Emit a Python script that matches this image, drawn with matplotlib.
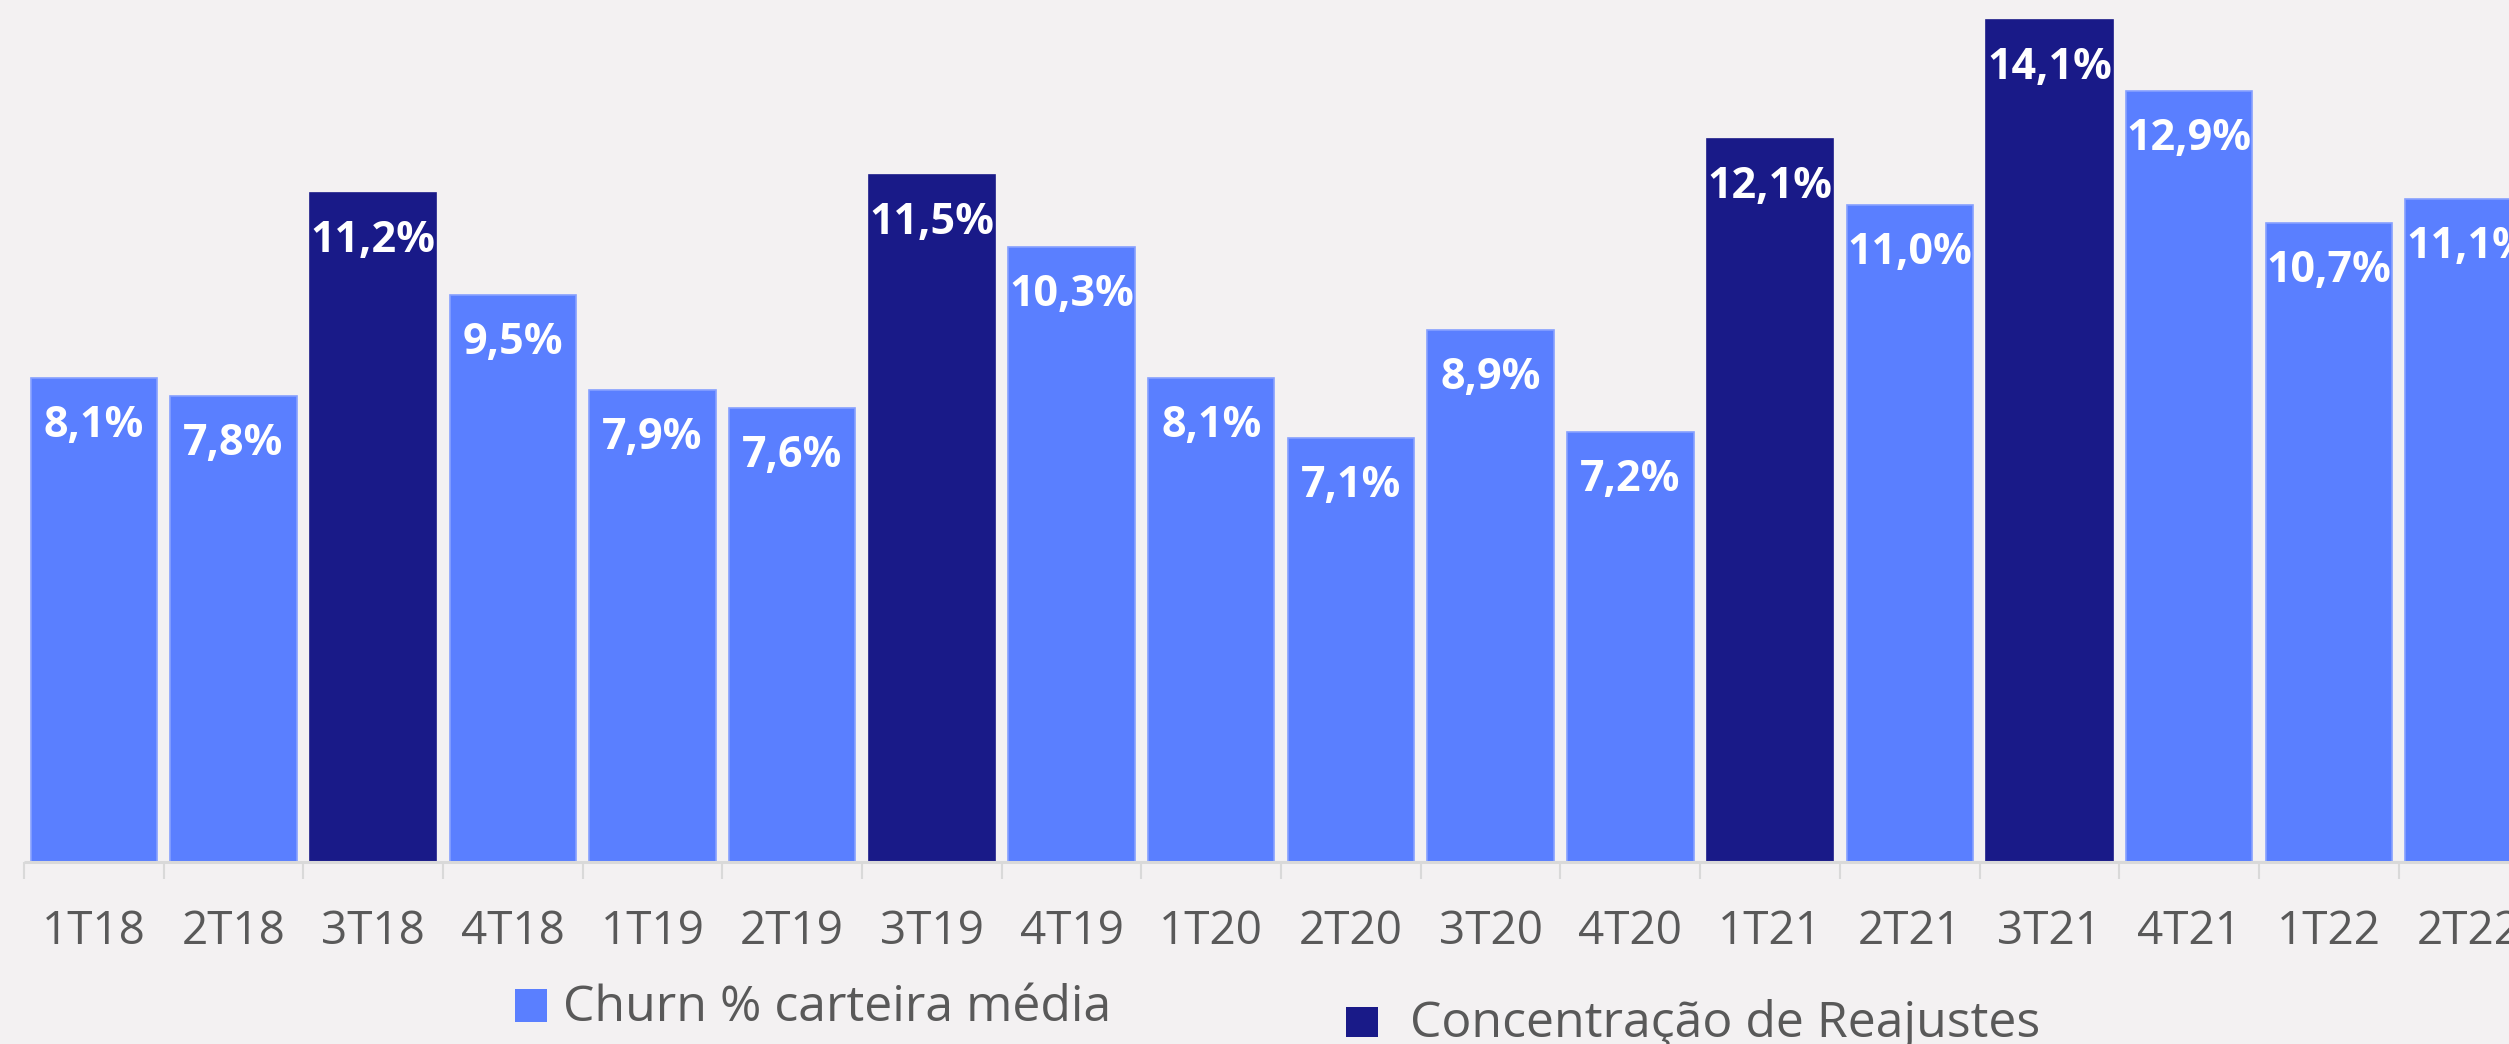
import numpy as np
import matplotlib
matplotlib.use("Agg")
import matplotlib.pyplot as plt
from matplotlib.patches import Rectangle

# Quarterly churn (% of average portfolio)
quarters = ["1T18", "2T18", "3T18", "4T18", "1T19", "2T19", "3T19", "4T19", "1T20",
            "2T20", "3T20", "4T20", "1T21", "2T21", "3T21", "4T21", "1T22", "2T22"]
churn = [8.1, 7.8, 11.2, 9.5, 7.9, 7.6, 11.5, 10.3, 8.1,
         7.1, 8.9, 7.2, 12.1, 11.0, 14.1, 12.9, 10.7, 11.1]
# Quarters with concentration of price readjustments
readjust = [0, 0, 1, 0, 0, 0, 1, 0, 0, 0, 0, 0, 1, 0, 1, 0, 0, 0]

legend_labels = ["Churn % carteira média", "Concentração de Reajustes"]

LIGHT = "#5A7FFF"
DARK = "#191A88"
BG = "#F3F1F2"
GREY = "#595959"
AXIS = "#D9D9D9"

W, H = 2509, 1044
DPI = 100
FONT = "Open Sans"

fig = plt.figure(figsize=(W / DPI, H / DPI), dpi=DPI, facecolor=BG)
ax = fig.add_axes([0, 0, 1, 1], facecolor=BG)

x = np.arange(len(quarters))
colors = [DARK if r else LIGHT for r in readjust]
edges = [DARK if r else "#86A0FF" for r in readjust]
ax.bar(x, churn, width=0.905, color=colors, edgecolor=edges, linewidth=1.2, zorder=2)

for s in ax.spines.values():
    s.set_visible(False)
ax.set_yticks([])

# category axis: baseline line and separator ticks
ax.plot([-0.5, 17.6], [0, 0], color=AXIS, lw=2.2, zorder=3, solid_capstyle="butt")
ax.set_xticks([])
ax.set_xticks(np.arange(-0.5, len(quarters)), minor=True)
ax.tick_params(axis="x", which="minor", length=12.5, width=1.5, color=AXIS,
               direction="out", bottom=True)
ax.xaxis.set_ticks_position("bottom")
ax.spines["bottom"].set_position(("data", 0))

ax.set_xlim(-0.671, 17.29)
ax.set_ylim(-3.046, 14.43)

# quarter labels below the axis
for xi, q in zip(x, quarters):
    ax.annotate(q, (xi, 0), xytext=(0, -82), textcoords="offset pixels",
                ha="center", va="baseline", fontsize=33, color=GREY,
                family=FONT, annotation_clip=False)

# value labels inside the bars
for xi, v in zip(x, churn):
    ax.annotate(f"{v:.1f}%".replace(".", ","), (xi, v), xytext=(0, -59),
                textcoords="offset pixels", ha="center", va="baseline",
                fontsize=31, fontweight="bold", color="white", family=FONT,
                annotation_clip=False, zorder=4)

# legend
def fx(px):
    return px / W

def fy(py):
    return 1 - py / H

fig.add_artist(Rectangle((fx(515), fy(1022)), fx(547) - fx(515), fy(989) - fy(1022),
                         transform=fig.transFigure, color=LIGHT, lw=0))
fig.text(fx(563), fy(1021), legend_labels[0], ha="left", va="baseline",
         fontsize=36, color=GREY, family=FONT)
fig.add_artist(Rectangle((fx(1346), fy(1037)), fx(1378) - fx(1346), fy(1007) - fy(1037),
                         transform=fig.transFigure, color=DARK, lw=0))
fig.text(fx(1410), fy(1037), legend_labels[1], ha="left", va="baseline",
         fontsize=36, color=GREY, family=FONT)

fig.savefig("out.png", dpi=DPI, facecolor=BG)
